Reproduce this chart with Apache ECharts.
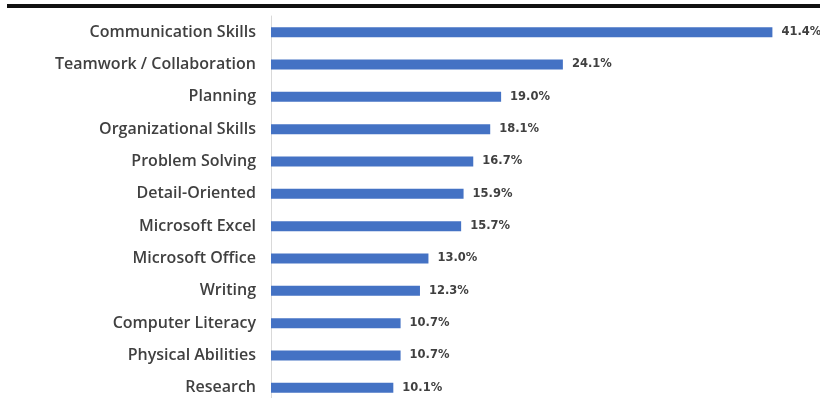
<!DOCTYPE html>
<html>
<head>
<meta charset="utf-8">
<script src="https://cdn.jsdelivr.net/npm/echarts@6/dist/echarts.min.js"></script>
<style>
  html, body { margin: 0; padding: 0; background: #ffffff; }
  #chart { width: 820px; height: 398px; }
</style>
</head>
<body>
<div id="chart"></div>
<script>
// Skills, listed top to bottom
const skills = [
  'Communication Skills',
  'Teamwork / Collaboration',
  'Planning',
  'Organizational Skills',
  'Problem Solving',
  'Detail-Oriented',
  'Microsoft Excel',
  'Microsoft Office',
  'Writing',
  'Computer Literacy',
  'Physical Abilities',
  'Research'
];
// Share of postings mentioning each skill (%)
const shares = [41.4, 24.1, 19.0, 18.1, 16.7, 15.9, 15.7, 13.0, 12.3, 10.7, 10.7, 10.1];

const chart = echarts.init(document.getElementById('chart'), null, { renderer: 'canvas' });

chart.setOption({
  backgroundColor: '#ffffff',
  animation: false,
  graphic: [{
    type: 'rect',
    shape: { x: 7, y: 4, width: 813, height: 4 },
    style: { fill: '#111111' },
    silent: true
  }],
  grid: {
    left: 271, top: 16, width: 545, height: 388,
    containLabel: false,
    outerBoundsMode: 'none'
  },
  xAxis: {
    type: 'value',
    min: 0,
    max: 45,
    show: false
  },
  yAxis: {
    type: 'category',
    data: skills,
    inverse: true,
    axisLine: { show: true, lineStyle: { color: '#d9d9d9', width: 1 } },
    axisTick: { show: false },
    axisLabel: {
      margin: 15,
      color: '#404040',
      fontFamily: 'Open Sans',
      fontWeight: 600,
      fontSize: 16
    }
  },
  series: [{
    type: 'bar',
    data: shares,
    barWidth: 10,
    itemStyle: { color: '#4472c4' },
    label: {
      show: true,
      position: 'right',
      distance: 9,
      color: '#404040',
      fontFamily: 'DejaVu Sans',
      fontWeight: 'bold',
      fontSize: 11.5,
      formatter: p => p.value.toFixed(1) + '%'
    }
  }]
});
</script>
</body>
</html>
